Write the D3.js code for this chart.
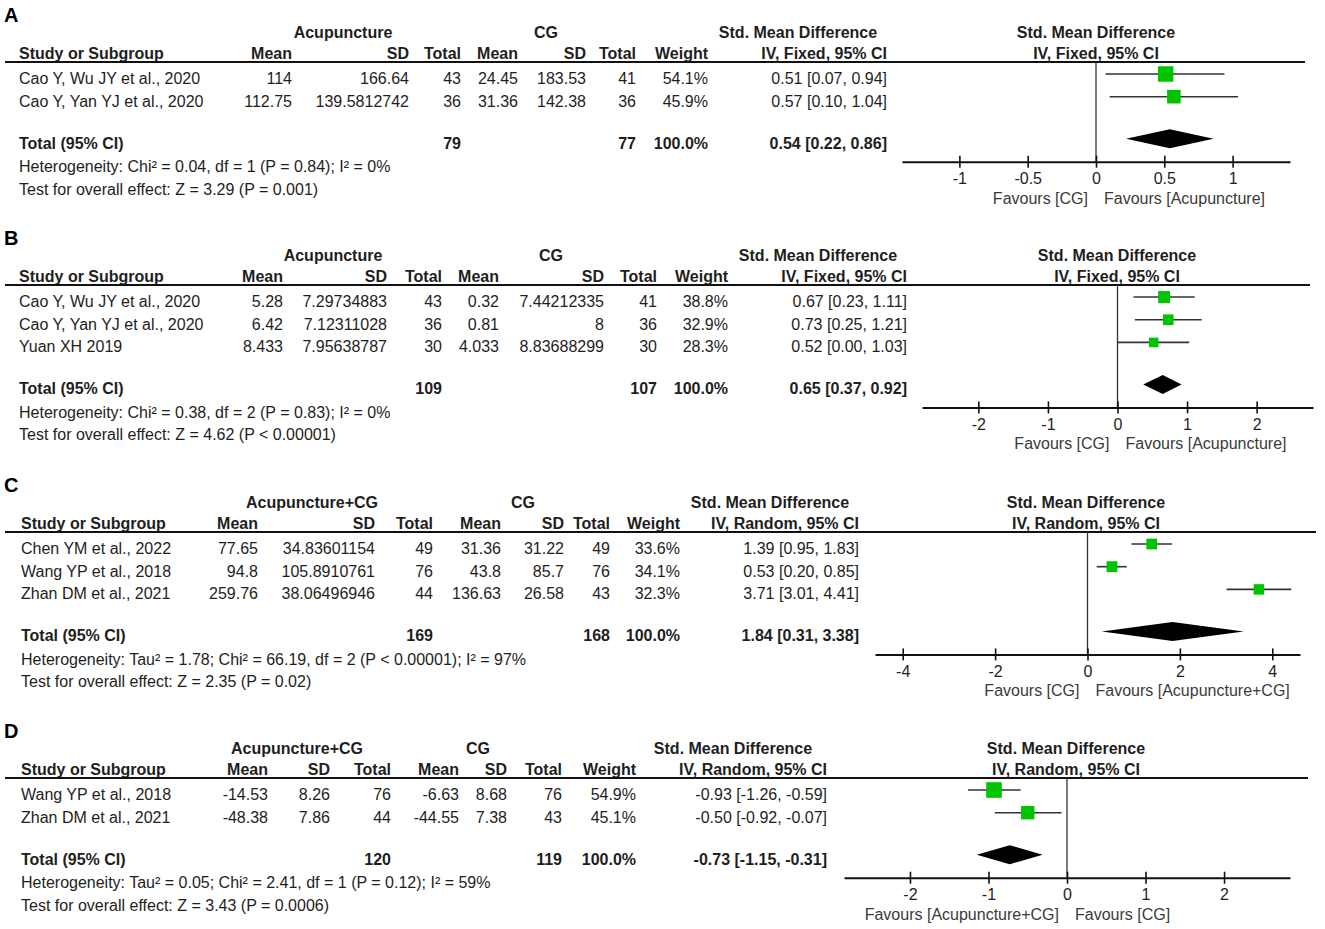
<!DOCTYPE html>
<html>
<head>
<meta charset="utf-8">
<script src="https://cdn.jsdelivr.net/npm/d3@7"></script>
<style>
body { margin: 0; background: #fff; }
svg text { font-family: "Liberation Sans", Arial, sans-serif; font-size: 16px; fill: #1e1e1e; }
</style>
</head>
<body>
<svg id="chart" width="1325" height="929"></svg>
<script>
// ---- panel A ----
var aStudies = ["Cao Y, Wu JY et al., 2020", "Cao Y, Yan YJ et al., 2020"];
var aExpMean = [114, 112.75];
var aExpSD = [166.64, 139.5812742];
var aExpN = [43, 36];
var aCtlMean = [24.45, 31.36];
var aCtlSD = [183.53, 142.38];
var aCtlN = [41, 36];
var aWeight = [54.1, 45.9];
var aSmd = [0.51, 0.57];
var aLow = [0.07, 0.10];
var aHigh = [0.94, 1.04];
var aTotals = [79, 77];
var aPooled = [0.54, 0.22, 0.86];
var aTicks = [-1, -0.5, 0, 0.5, 1];

// ---- panel B ----
var bStudies = ["Cao Y, Wu JY et al., 2020", "Cao Y, Yan YJ et al., 2020", "Yuan XH 2019"];
var bExpMean = [5.28, 6.42, 8.433];
var bExpSD = [7.29734883, 7.12311028, 7.95638787];
var bExpN = [43, 36, 30];
var bCtlMean = [0.32, 0.81, 4.033];
var bCtlSD = [7.44212335, 8, 8.83688299];
var bCtlN = [41, 36, 30];
var bWeight = [38.8, 32.9, 28.3];
var bSmd = [0.67, 0.73, 0.52];
var bLow = [0.23, 0.25, 0.00];
var bHigh = [1.11, 1.21, 1.03];
var bTotals = [109, 107];
var bPooled = [0.65, 0.37, 0.92];
var bTicks = [-2, -1, 0, 1, 2];

// ---- panel C ----
var cStudies = ["Chen YM et al., 2022", "Wang YP et al., 2018", "Zhan DM et al., 2021"];
var cExpMean = [77.65, 94.8, 259.76];
var cExpSD = [34.83601154, 105.8910761, 38.06496946];
var cExpN = [49, 76, 44];
var cCtlMean = [31.36, 43.8, 136.63];
var cCtlSD = [31.22, 85.7, 26.58];
var cCtlN = [49, 76, 43];
var cWeight = [33.6, 34.1, 32.3];
var cSmd = [1.39, 0.53, 3.71];
var cLow = [0.95, 0.20, 3.01];
var cHigh = [1.83, 0.85, 4.41];
var cTotals = [169, 168];
var cPooled = [1.84, 0.31, 3.38];
var cTicks = [-4, -2, 0, 2, 4];

// ---- panel D ----
var dStudies = ["Wang YP et al., 2018", "Zhan DM et al., 2021"];
var dExpMean = [-14.53, -48.38];
var dExpSD = [8.26, 7.86];
var dExpN = [76, 44];
var dCtlMean = [-6.63, -44.55];
var dCtlSD = [8.68, 7.38];
var dCtlN = [76, 43];
var dWeight = [54.9, 45.1];
var dSmd = [-0.93, -0.50];
var dLow = [-1.26, -0.92];
var dHigh = [-0.59, -0.07];
var dTotals = [120, 119];
var dPooled = [-0.73, -1.15, -0.31];
var dTicks = [-2, -1, 0, 1, 2];

var panels = [
    {label: "A", top: 0, group: "Acupuncture", method: "IV, Fixed, 95% CI",
     studies: aStudies, expMean: aExpMean, expSD: aExpSD, expN: aExpN, ctlMean: aCtlMean, ctlSD: aCtlSD, ctlN: aCtlN,
     weight: aWeight, smd: aSmd, low: aLow, high: aHigh, totals: aTotals, pooled: aPooled, ticks: aTicks,
     het: "Heterogeneity: Chi\u00b2 = 0.04, df = 1 (P = 0.84); I\u00b2 = 0%",
     test: "Test for overall effect: Z = 3.29 (P = 0.001)",
     favL: "Favours [CG]", favR: "Favours [Acupuncture]",
     cols: {study: 19, expMean: 292, expSD: 409, expN: 461, ctlMean: 518, ctlSD: 586, ctlN: 636, weight: 708, est: 887,
            grp: 343, ctl: 546, smdHead: 798, plotHead: 1096, lineEnd: 1305},
     half: 1.42, x0: 902, x1: 1290},
    {label: "B", top: 223, group: "Acupuncture", method: "IV, Fixed, 95% CI",
     studies: bStudies, expMean: bExpMean, expSD: bExpSD, expN: bExpN, ctlMean: bCtlMean, ctlSD: bCtlSD, ctlN: bCtlN,
     weight: bWeight, smd: bSmd, low: bLow, high: bHigh, totals: bTotals, pooled: bPooled, ticks: bTicks,
     het: "Heterogeneity: Chi\u00b2 = 0.38, df = 2 (P = 0.83); I\u00b2 = 0%",
     test: "Test for overall effect: Z = 4.62 (P < 0.00001)",
     favL: "Favours [CG]", favR: "Favours [Acupuncture]",
     cols: {study: 19, expMean: 283, expSD: 387, expN: 442, ctlMean: 499, ctlSD: 604, ctlN: 657, weight: 728, est: 907,
            grp: 333, ctl: 551, smdHead: 818, plotHead: 1117, lineEnd: 1310},
     half: 2.81, x0: 922, x1: 1313},
    {label: "C", top: 470, group: "Acupuncture+CG", method: "IV, Random, 95% CI",
     studies: cStudies, expMean: cExpMean, expSD: cExpSD, expN: cExpN, ctlMean: cCtlMean, ctlSD: cCtlSD, ctlN: cCtlN,
     weight: cWeight, smd: cSmd, low: cLow, high: cHigh, totals: cTotals, pooled: cPooled, ticks: cTicks,
     het: "Heterogeneity: Tau\u00b2 = 1.78; Chi\u00b2 = 66.19, df = 2 (P < 0.00001); I\u00b2 = 97%",
     test: "Test for overall effect: Z = 2.35 (P = 0.02)",
     favL: "Favours [CG]", favR: "Favours [Acupuncture+CG]",
     cols: {study: 21, expMean: 258, expSD: 375, expN: 433, ctlMean: 501, ctlSD: 564, ctlN: 610, weight: 680, est: 859,
            grp: 312, ctl: 523, smdHead: 770, plotHead: 1086, lineEnd: 1316},
     half: 4.6, x0: 875, x1: 1300},
    {label: "D", top: 716, group: "Acupuncture+CG", method: "IV, Random, 95% CI",
     studies: dStudies, expMean: dExpMean, expSD: dExpSD, expN: dExpN, ctlMean: dCtlMean, ctlSD: dCtlSD, ctlN: dCtlN,
     weight: dWeight, smd: dSmd, low: dLow, high: dHigh, totals: dTotals, pooled: dPooled, ticks: dTicks,
     het: "Heterogeneity: Tau\u00b2 = 0.05; Chi\u00b2 = 2.41, df = 1 (P = 0.12); I\u00b2 = 59%",
     test: "Test for overall effect: Z = 3.43 (P = 0.0006)",
     favL: "Favours [Acupuncture+CG]", favR: "Favours [CG]",
     cols: {study: 21, expMean: 268, expSD: 330, expN: 391, ctlMean: 459, ctlSD: 507, ctlN: 562, weight: 636, est: 827,
            grp: 297, ctl: 478, smdHead: 733, plotHead: 1066, lineEnd: 1308},
     half: 2.84, x0: 844, x1: 1290}
];

var svg = d3.select("#chart");
var sizeScale = d3.scaleLinear().domain([0, 100]).range([3, 26]);

function ci(e, l, h) {
    return e.toFixed(2) + " [" + l.toFixed(2) + ", " + h.toFixed(2) + "]";
}

function txt(g, x, y, s, anchor, bold) {
    return g.append("text")
        .attr("x", x).attr("y", y)
        .attr("text-anchor", anchor || "start")
        .style("font-weight", bold ? "bold" : "normal")
        .text(s);
}

function drawPanel(p) {
    var g = svg.append("g").attr("transform", "translate(0," + p.top + ")");
    var c = p.cols;
    var n = p.studies.length;
    var step = 22.7;
    var yLine = 62, yRow0 = 84;
    var yTot = yRow0 + (n - 1) * step + 42;
    var yAxis = yTot + 13;

    var x = d3.scaleLinear().domain([-p.half, p.half]).range([p.x0, p.x1]);

    // panel letter + headers
    g.append("text").attr("x", 4).attr("y", 22).style("font-weight", "bold").style("font-size", "20px").style("fill", "#000").text(p.label);
    txt(g, c.grp, 38, p.group, "middle", true);
    txt(g, c.ctl, 38, "CG", "middle", true);
    txt(g, c.smdHead, 38, "Std. Mean Difference", "middle", true);
    txt(g, c.plotHead, 38, "Std. Mean Difference", "middle", true);

    txt(g, c.study, 59, "Study or Subgroup", "start", true);
    txt(g, c.expMean, 59, "Mean", "end", true);
    txt(g, c.expSD, 59, "SD", "end", true);
    txt(g, c.expN, 59, "Total", "end", true);
    txt(g, c.ctlMean, 59, "Mean", "end", true);
    txt(g, c.ctlSD, 59, "SD", "end", true);
    txt(g, c.ctlN, 59, "Total", "end", true);
    txt(g, c.weight, 59, "Weight", "end", true);
    txt(g, c.est, 59, p.method, "end", true);
    txt(g, c.plotHead, 59, p.method, "middle", true);

    g.append("line")
        .attr("x1", 5).attr("x2", c.lineEnd)
        .attr("y1", yLine).attr("y2", yLine)
        .attr("stroke", "#111").attr("stroke-width", 2);

    // study rows
    p.studies.forEach(function(s, i) {
        var y = yRow0 + i * step;
        txt(g, c.study, y, s);
        txt(g, c.expMean, y, String(p.expMean[i]), "end");
        txt(g, c.expSD, y, String(p.expSD[i]), "end");
        txt(g, c.expN, y, String(p.expN[i]), "end");
        txt(g, c.ctlMean, y, String(p.ctlMean[i]), "end");
        txt(g, c.ctlSD, y, String(p.ctlSD[i]), "end");
        txt(g, c.ctlN, y, String(p.ctlN[i]), "end");
        txt(g, c.weight, y, p.weight[i].toFixed(1) + "%", "end");
        txt(g, c.est, y, ci(p.smd[i], p.low[i], p.high[i]), "end");
    });

    // total rows
    txt(g, c.study, yTot, "Total (95% CI)", "start", true);
    txt(g, c.expN, yTot, String(p.totals[0]), "end", true);
    txt(g, c.ctlN, yTot, String(p.totals[1]), "end", true);
    txt(g, c.weight, yTot, "100.0%", "end", true);
    txt(g, c.est, yTot, ci(p.pooled[0], p.pooled[1], p.pooled[2]), "end", true);
    txt(g, c.study, yTot + 23.5, p.het);
    txt(g, c.study, yTot + 46, p.test);

    // zero line
    g.append("line")
        .attr("x1", x(0)).attr("x2", x(0))
        .attr("y1", yLine).attr("y2", yAxis)
        .attr("stroke", "#333").attr("stroke-width", 1.3);

    // CI whiskers
    g.selectAll(".ci")
        .data(p.smd)
        .enter()
        .append("line")
        .attr("x1", function(d, i) { return x(p.low[i]); })
        .attr("x2", function(d, i) { return x(p.high[i]); })
        .attr("y1", function(d, i) { return yRow0 + i * step - 10; })
        .attr("y2", function(d, i) { return yRow0 + i * step - 10; })
        .attr("stroke", "#333").attr("stroke-width", 1.6);

    // weight squares
    g.selectAll(".sq")
        .data(p.smd)
        .enter()
        .append("rect")
        .attr("x", function(d, i) { return x(d) - sizeScale(p.weight[i]) / 2; })
        .attr("y", function(d, i) { return yRow0 + i * step - 10 - sizeScale(p.weight[i]) / 2; })
        .attr("width", function(d, i) { return sizeScale(p.weight[i]); })
        .attr("height", function(d, i) { return sizeScale(p.weight[i]); })
        .attr("fill", "#00c400");

    // pooled diamond
    var yc = yTot - 10;
    g.append("path")
        .attr("d", "M" + x(p.pooled[1]) + "," + yc +
                   "L" + x(p.pooled[0]) + "," + (yc - 9.5) +
                   "L" + x(p.pooled[2]) + "," + yc +
                   "L" + x(p.pooled[0]) + "," + (yc + 9.5) + "Z")
        .attr("fill", "#000");

    // axis
    var ax = g.append("g")
        .attr("transform", "translate(0," + yAxis + ")")
        .call(d3.axisBottom(x).tickValues(p.ticks).tickFormat(function(d) { return String(d); }).tickSizeOuter(0).tickSizeInner(6));
    ax.select(".domain").attr("stroke", "#111").attr("stroke-width", 2);
    ax.selectAll(".tick line").attr("y1", -6).attr("y2", 6).attr("stroke", "#111").attr("stroke-width", 1.6);
    ax.selectAll(".tick text").attr("y", 11).style("font-size", "16px").style("font-family", "'Liberation Sans', Arial, sans-serif").attr("fill", "#1e1e1e");

    g.append("text").attr("x", x(0) - 8).attr("y", yAxis + 42).attr("text-anchor", "end").style("fill", "#3a3a3a").text(p.favL);
    g.append("text").attr("x", x(0) + 8).attr("y", yAxis + 42).attr("text-anchor", "start").style("fill", "#3a3a3a").text(p.favR);
}

panels.forEach(drawPanel);
</script>
</body>
</html>
